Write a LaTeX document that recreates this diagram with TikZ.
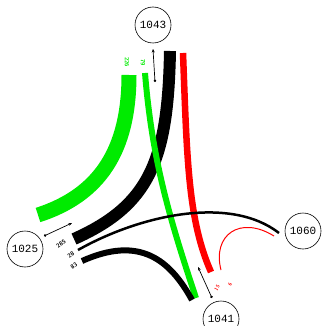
\documentclass[tikz,border=0pt]{standalone}
\usepackage{fontspec}
\setmonofont{Liberation Mono}
\usetikzlibrary{arrows.meta}
\definecolor{flowgreen}{RGB}{0,235,0}
\definecolor{flowred}{RGB}{255,0,0}
\begin{document}
\begin{tikzpicture}[x=1pt,y=-1pt,
  station/.style={draw, circle, minimum size=36pt, inner sep=0pt, line width=0.6pt,
    font=\ttfamily\fontsize{11}{11}\selectfont},
  band/.style={line cap=butt},
  vol/.style={inner sep=0pt, font=\sffamily\bfseries\fontsize{6}{6}\selectfont},
  smallvol/.style={vol, font=\sffamily\bfseries\fontsize{5}{5}\selectfont},
  link/.style={{Circle[length=2.5pt]}-{Stealth[length=3.5pt,width=3pt]}, line width=0.7pt}
]
\useasboundingbox (0,0) rectangle (321,326);

% stations
\node[station] (n1043) at (153,25) {1043};
\node[station] (n1025) at (25,249) {1025};
\node[station] (n1041) at (221,319) {1041};
\node[station] (n1060) at (303,231) {1060};

% end points of the traffic bands
\coordinate (gA) at (129,75);   \coordinate (gB) at (38,215);
\coordinate (kA) at (170,51);   \coordinate (kB) at (74,239);
\coordinate (hA) at (145,73);   \coordinate (hB) at (196,298);
\coordinate (rA) at (183,53);   \coordinate (rB) at (211,272);
\coordinate (aA) at (78,250);   \coordinate (aB) at (279,233);
\coordinate (mA) at (82,261);   \coordinate (mB) at (192,300);
\coordinate (sA) at (221,270);  \coordinate (sB) at (274,236);

% traffic bands
\draw[band, flowgreen, line width=15pt] (gA) .. controls (129,150) and (100,195) .. (gB);
\draw[band, black, line width=12pt] (kA) .. controls (168,160) and (150,205) .. (kB);
\draw[band, flowgreen, line width=6pt] (hA) .. controls (152,160) and (170,220) .. (hB);
\draw[band, flowred, line width=6.5pt] (rA) .. controls (187,160) and (188,220) .. (rB);
\draw[band, black, line width=2.5pt] (aA) .. controls (140,215) and (230,195) .. (aB);
\draw[band, black, line width=6pt] (mA) .. controls (140,235) and (170,260) .. (mB);
\draw[band, flowred, line width=1pt] (sA) .. controls (212,235) and (240,215) .. (sB);

% direction markers at the stations
\coordinate (t1043a) at (155,82); \coordinate (t1043b) at (153,49);
\coordinate (t1025a) at (44,236); \coordinate (t1025b) at (72,223);
\coordinate (t1041a) at (212,298); \coordinate (t1041b) at (198,267);
\draw[link] (t1043a) -- (t1043b);
\draw[link] (t1025a) -- (t1025b);
\draw[link] (t1041a) -- (t1041b);

% volumes
\node[vol, text=flowgreen, rotate=-90] (v226) at (127,62) {226};
\node[vol, text=flowgreen, rotate=-90] (v79) at (143,63) {79};
\node[vol, rotate=35] (v285) at (61,244) {285};
\node[vol, rotate=35] (v28) at (71,255) {28};
\node[vol, rotate=35] (v83) at (74,266) {83};
\node[smallvol, text=flowred, rotate=60] (v15) at (217,288) {15};
\node[smallvol, text=flowred, rotate=60] (v6) at (230,284) {6};
\end{tikzpicture}
\end{document}
